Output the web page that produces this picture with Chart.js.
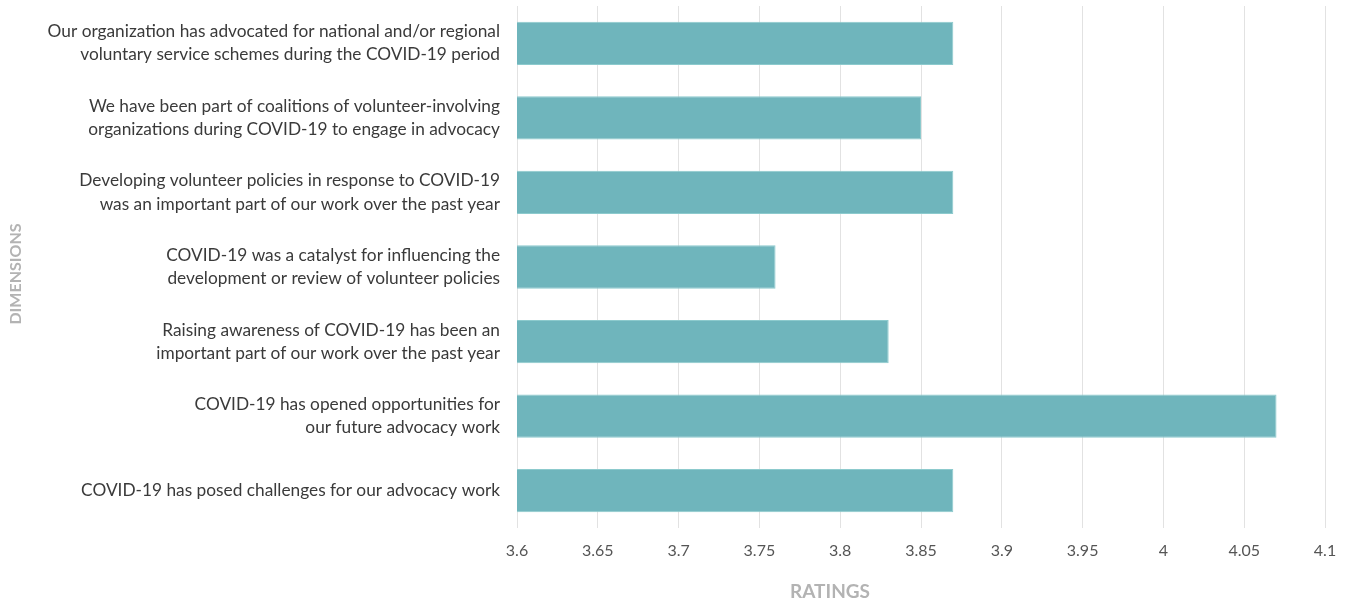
<!DOCTYPE html>
<html>
<head>
<meta charset="utf-8">
<script src="https://cdn.jsdelivr.net/npm/chart.js@4"></script>
<style>
    html, body { margin: 0; padding: 0; background: #fff; }
    #wrap { width: 1348px; height: 603px; }
</style>
</head>
<body>
<div id="wrap"><canvas id="barChart"></canvas></div>
<script>
// ─── Data ─────────────────────────────────────────────────────────────────
const categories = [
    ['Our organization has advocated for national and/or regional', 'voluntary service schemes during the COVID-19 period'],
    ['We have been part of coalitions of volunteer-involving', 'organizations during COVID-19 to engage in advocacy'],
    ['Developing volunteer policies in response to COVID-19', 'was an important part of our work over the past year'],
    ['COVID-19 was a catalyst for influencing the', 'development or review of volunteer policies'],
    ['Raising awareness of COVID-19 has been an', 'important part of our work over the past year'],
    ['COVID-19 has opened opportunities for', 'our future advocacy work'],
    'COVID-19 has posed challenges for our advocacy work'
];
const ratings = [3.87, 3.85, 3.87, 3.76, 3.83, 4.07, 3.87];
const xMin = 3.6;
const xMax = 4.1;
const xStep = 0.05;

const COLORS = {
    bar:      '#6fb5bc',
    barEdge:  '#8ccacd',
    label:    '#3a3a3a',
    tick:     '#555555',
    title:    '#b3b3b3',
    grid:     '#e2e2e2',
};

const FONT = "Lato, 'Open Sans', sans-serif";

// axis titles drawn by hand so they sit where the reference has them
const axisTitles = {
    id: 'axisTitles',
    afterDraw(chart) {
        const ctx = chart.ctx;
        ctx.save();
        ctx.fillStyle = COLORS.title;
        ctx.textAlign = 'center';
        ctx.textBaseline = 'middle';
        ctx.font = `bold 19px ${FONT}`;
        ctx.fillText('RATINGS', 830, 592);
        ctx.font = `bold 16px ${FONT}`;
        ctx.translate(16, 274);
        ctx.rotate(-Math.PI / 2);
        ctx.fillText('DIMENSIONS', 0, 0);
        ctx.restore();
    }
};

new Chart(document.getElementById('barChart'), {
    type: 'bar',
    data: {
        labels: categories,
        datasets: [{
            label: 'Rating',
            data: ratings,
            backgroundColor: COLORS.bar,
            borderColor: COLORS.barEdge,
            borderWidth: 1,
            barPercentage: 0.58,
            categoryPercentage: 1,
        }]
    },
    options: {
        indexAxis: 'y',
        responsive: true,
        maintainAspectRatio: false,
        animation: false,
        layout: { padding: { top: 6, right: 23, left: 0, bottom: 0 } },
        plugins: {
            legend: { display: false },
            tooltip: { enabled: false }
        },
        scales: {
            x: {
                min: xMin,
                max: xMax,
                afterFit: (scale) => {
                    scale.height = 75;
                    scale.paddingLeft = 0;
                    scale.paddingRight = 0;
                },
                afterBuildTicks: (scale) => {
                    const ticks = [];
                    for (let i = 0; i <= Math.round((xMax - xMin) / xStep); i++) {
                        ticks.push({ value: +(xMin + i * xStep).toFixed(2) });
                    }
                    scale.ticks = ticks;
                },
                grid: { color: COLORS.grid, lineWidth: 1, drawTicks: false },
                border: { display: false },
                ticks: {
                    color: COLORS.tick,
                    padding: 13,
                    font: { size: 16, family: FONT },
                    callback: (v) => String(+v.toFixed(2))
                }
            },
            y: {
                afterFit: (scale) => {
                    scale.width = 517;
                    scale.paddingTop = 0;
                    scale.paddingBottom = 0;
                },
                grid: { display: false },
                border: { display: false },
                ticks: {
                    color: COLORS.label,
                    padding: 9,
                    font: { size: 17.3, family: FONT, lineHeight: 1.33 }
                }
            }
        }
    },
    plugins: [axisTitles]
});
</script>
</body>
</html>
